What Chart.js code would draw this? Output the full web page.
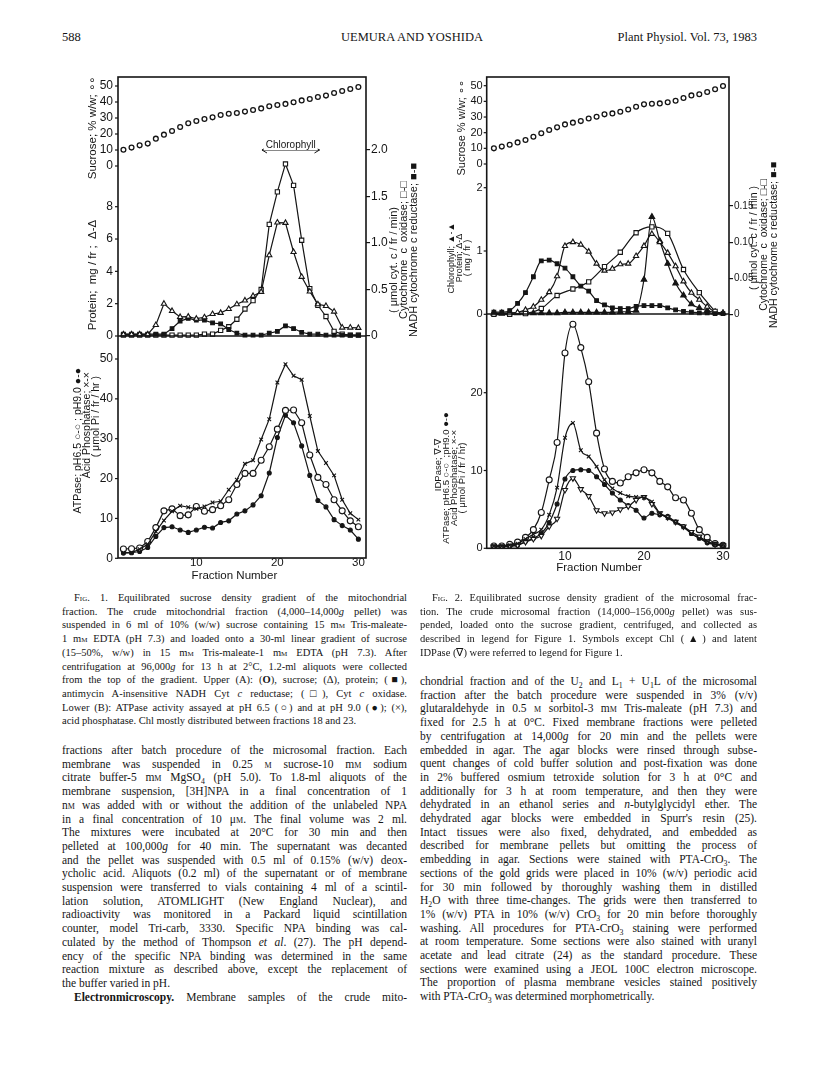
<!DOCTYPE html>
<html>
<head>
<meta charset="utf-8">
<script src="https://cdn.jsdelivr.net/npm/chart.js@4.4.0/dist/chart.umd.min.js"></script>
<style>
  body { margin:0; width:816px; height:1073px; background:#fff; position:relative; overflow:hidden;
         font-family:'Liberation Serif', 'Times New Roman', serif; color:#151515; }
  .hdr { position:absolute; top:30px; font-size:12.5px; line-height:14px; white-space:nowrap; }
  .fig { position:absolute; }
  .txt { position:absolute; }
  .txt div { white-space:nowrap; text-align:justify; text-align-last:justify; }
  .txt div.e { text-align-last:left; }
  .txt div.i { padding-left:12px; }
  .cap { font-size:10.5px; line-height:13.7px; }
  .bod { font-size:11.5px; line-height:13.7px; }
  .sc { font-variant:small-caps; }
  sub, sup { font-size:0.68em; line-height:0; }
</style>
</head>
<body>
<div class="hdr" style="left:62px">588</div>
<div class="hdr" style="left:0; width:816px; text-align:center; padding-left:4px">UEMURA AND YOSHIDA</div>
<div class="hdr" style="right:59px">Plant Physiol. Vol. 73, 1983</div>

<div class="fig" style="left:60px; top:65px"><canvas id="fig1" width="380" height="525"></canvas></div>
<div class="fig" style="left:425px; top:65px"><canvas id="fig2" width="370" height="515"></canvas></div>

<!-- Fig. 1 legend -->
<div class="txt cap" style="left:62px; top:591px; width:345px">
  <div class="i">F<span class="sc">ig</span>. 1. Equilibrated sucrose density gradient of the mitochondrial</div>
  <div>fraction. The crude mitochondrial fraction (4,000–14,000<i>g</i> pellet) was</div>
  <div>suspended in 6 ml of 10% (w/w) sucrose containing 15 m<span class="sc">m</span> Tris-maleate-</div>
  <div>1 m<span class="sc">m</span> EDTA (pH 7.3) and loaded onto a 30-ml linear gradient of sucrose</div>
  <div>(15–50%, w/w) in 15 m<span class="sc">m</span> Tris-maleate-1 m<span class="sc">m</span> EDTA (pH 7.3). After</div>
  <div>centrifugation at 96,000<i>g</i> for 13 h at 2°C, 1.2-ml aliquots were collected</div>
  <div>from the top of the gradient. Upper (A): (<b>O</b>), sucrose; (Δ), protein; (■),</div>
  <div>antimycin A-insensitive NADH Cyt <i>c</i> reductase; (□), Cyt <i>c</i> oxidase.</div>
  <div>Lower (B): ATPase activity assayed at pH 6.5 (○) and at pH 9.0 (●); (×),</div>
  <div class="e">acid phosphatase. Chl mostly distributed between fractions 18 and 23.</div>
</div>

<!-- left column text -->
<div class="txt bod" style="left:62px; top:744px; width:345px">
  <div>fractions after batch procedure of the microsomal fraction. Each</div>
  <div>membrane was suspended in 0.25 <span class="sc">m</span> sucrose-10 m<span class="sc">m</span> sodium</div>
  <div>citrate buffer-5 m<span class="sc">m</span> MgSO<sub>4</sub> (pH 5.0). To 1.8-ml aliquots of the</div>
  <div>membrane suspension, [3H]NPA in a final concentration of 1</div>
  <div>n<span class="sc">m</span> was added with or without the addition of the unlabeled NPA</div>
  <div>in a final concentration of 10 μ<span class="sc">m</span>. The final volume was 2 ml.</div>
  <div>The mixtures were incubated at 20°C for 30 min and then</div>
  <div>pelleted at 100,000<i>g</i> for 40 min. The supernatant was decanted</div>
  <div>and the pellet was suspended with 0.5 ml of 0.15% (w/v) deox-</div>
  <div>ycholic acid. Aliquots (0.2 ml) of the supernatant or of membrane</div>
  <div>suspension were transferred to vials containing 4 ml of a scintil-</div>
  <div>lation solution, ATOMLIGHT (New England Nuclear), and</div>
  <div>radioactivity was monitored in a Packard liquid scintillation</div>
  <div>counter, model Tri-carb, 3330. Specific NPA binding was cal-</div>
  <div>culated by the method of Thompson <i>et al</i>. (27). The pH depend-</div>
  <div>ency of the specific NPA binding was determined in the same</div>
  <div>reaction mixture as described above, except the replacement of</div>
  <div class="e">the buffer varied in pH.</div>
  <div class="i"><b>Electronmicroscopy.</b> Membrane samples of the crude mito-</div>
</div>

<!-- Fig. 2 legend -->
<div class="txt cap" style="left:420px; top:591px; width:337px">
  <div class="i">F<span class="sc">ig</span>. 2. Equilibrated sucrose density gradient of the microsomal frac-</div>
  <div>tion. The crude microsomal fraction (14,000–156,000<i>g</i> pellet) was sus-</div>
  <div>pended, loaded onto the sucrose gradient, centrifuged, and collected as</div>
  <div>described in legend for Figure 1. Symbols except Chl (▲) and latent</div>
  <div class="e">IDPase (∇) were referred to legend for Figure 1.</div>
</div>

<!-- right column text -->
<div class="txt bod" style="left:420px; top:675px; width:337px">
  <div>chondrial fraction and of the U<sub>2</sub> and L<sub>1</sub> + U<sub>1</sub>L of the microsomal</div>
  <div>fraction after the batch procedure were suspended in 3% (v/v)</div>
  <div>glutaraldehyde in 0.5 <span class="sc">m</span> sorbitol-3 m<span class="sc">m</span> Tris-maleate (pH 7.3) and</div>
  <div>fixed for 2.5 h at 0°C. Fixed membrane fractions were pelleted</div>
  <div>by centrifugation at 14,000<i>g</i> for 20 min and the pellets were</div>
  <div>embedded in agar. The agar blocks were rinsed through subse-</div>
  <div>quent changes of cold buffer solution and post-fixation was done</div>
  <div>in 2% buffered osmium tetroxide solution for 3 h at 0°C and</div>
  <div>additionally for 3 h at room temperature, and then they were</div>
  <div>dehydrated in an ethanol series and <i>n</i>-butylglycidyl ether. The</div>
  <div>dehydrated agar blocks were embedded in Spurr's resin (25).</div>
  <div>Intact tissues were also fixed, dehydrated, and embedded as</div>
  <div>described for membrane pellets but omitting the process of</div>
  <div>embedding in agar. Sections were stained with PTA-CrO<sub>3</sub>. The</div>
  <div>sections of the gold grids were placed in 10% (w/v) periodic acid</div>
  <div>for 30 min followed by thoroughly washing them in distilled</div>
  <div>H<sub>2</sub>O with three time-changes. The grids were then transferred to</div>
  <div>1% (w/v) PTA in 10% (w/v) CrO<sub>3</sub> for 20 min before thoroughly</div>
  <div>washing. All procedures for PTA-CrO<sub>3</sub> staining were performed</div>
  <div>at room temperature. Some sections were also stained with uranyl</div>
  <div>acetate and lead citrate (24) as the standard procedure. These</div>
  <div>sections were examined using a JEOL 100C electron microscope.</div>
  <div>The proportion of plasma membrane vesicles stained positively</div>
  <div class="e">with PTA-CrO<sub>3</sub> was determined morphometrically.</div>
</div>

<script>
// ---- data: fraction numbers ----
var fractions = [1, 2, 3, 4, 5, 6, 7, 8, 9, 10, 11, 12, 13, 14, 15, 16, 17, 18, 19, 20, 21, 22, 23, 24, 25, 26, 27, 28, 29, 30];
var fractionTicks = [10, 20, 30];

// ---- Fig. 1 (mitochondrial fraction) ----
var f1Sucrose = [10.2, 11.5, 12.9, 14.0, 17.1, 19.6, 21.9, 24.4, 26.7, 28.1, 29.4, 30.4, 31.9, 32.7, 33.1, 34.0, 35.0, 36.0, 37.3, 38.1, 38.8, 39.8, 41.0, 41.9, 43.1, 44.0, 45.6, 46.9, 48.1, 49.4];
var f1Protein = [0.1, 0.1, 0.1, 0.1, 0.68, 2.0, 1.55, 1.18, 1.2, 1.07, 1.16, 1.36, 1.43, 1.67, 1.96, 2.2, 2.48, 2.73, 5.0, 7.02, 7.0, 5.2, 3.66, 2.75, 1.96, 1.86, 1.51, 0.52, 0.52, 0.5];
var f1CytOx = [0.01, 0.01, 0.01, 0.01, 0.01, 0.01, 0.01, 0.01, 0.01, 0.01, 0.02, 0.02, 0.06, 0.1, 0.18, 0.29, 0.38, 0.5, 1.2, 1.55, 1.85, 1.62, 1.03, 0.51, 0.33, 0.21, 0.05, 0.02, 0.01, 0.01];
var f1Nadh = [0.02, 0.02, 0.02, 0.02, 0.02, 0.02, 0.08, 0.16, 0.19, 0.17, 0.17, 0.14, 0.13, 0.07, 0.03, 0.01, 0.01, 0.01, 0.03, 0.05, 0.11, 0.08, 0.04, 0.02, 0.02, 0.01, 0.01, 0.01, 0.01, 0.01];
var f1Atp65 = [2.35, 2.4, 2.6, 4.2, 7.7, 11.9, 12.4, 10.7, 10.9, 13.0, 11.8, 12.2, 13.2, 14.7, 18.5, 21.3, 21.3, 24.6, 28.0, 32.4, 37.1, 37.2, 34.0, 25.9, 20.3, 18.5, 14.7, 11.9, 9.4, 7.9];
var f1Atp90 = [1.3, 1.4, 1.7, 2.7, 5.5, 7.7, 7.9, 7.1, 6.5, 7.1, 7.8, 7.6, 9.0, 9.4, 11.1, 11.9, 13.4, 15.7, 21.4, 30.3, 35.9, 34.0, 28.2, 20.8, 14.5, 12.9, 9.7, 8.2, 7.1, 4.8];
var f1AcidP = [1.4, 1.4, 2.3, 3.5, 6.7, 9.5, 11.8, 13.2, 12.8, 12.4, 13.0, 14.0, 14.3, 17.2, 19.7, 23.7, 24.6, 29.8, 34.9, 44.1, 48.7, 45.8, 44.8, 35.7, 26.9, 23.9, 20.8, 14.7, 11.3, 9.7];

// ---- Fig. 2 (microsomal fraction) ----
var f2Sucrose = [10.0, 11.1, 12.3, 13.8, 15.3, 17.4, 19.6, 21.7, 23.4, 25.3, 26.4, 27.4, 29.1, 30.2, 31.7, 32.3, 33.4, 34.8, 36.6, 38.1, 38.5, 38.7, 39.4, 40.4, 42.1, 43.8, 44.5, 46.0, 47.7, 49.8];
var f2Chl = [0.02, 0.02, 0.02, 0.02, 0.02, 0.02, 0.02, 0.02, 0.02, 0.03, 0.03, 0.03, 0.03, 0.03, 0.03, 0.03, 0.04, 0.04, 0.06, 0.55, 1.54, 1.16, 0.8, 0.49, 0.3, 0.16, 0.1, 0.06, 0.03, 0.02];
var f2Protein = [0.01, 0.01, 0.02, 0.03, 0.07, 0.12, 0.23, 0.35, 0.6, 1.08, 1.14, 1.1, 0.99, 0.8, 0.69, 0.72, 0.79, 0.8, 0.92, 1.08, 1.27, 1.14, 0.97, 0.76, 0.52, 0.34, 0.23, 0.12, 0.04, 0.02];
var f2CytOxFractions = [1, 3, 5, 7, 9, 11, 13, 15, 17, 19, 21, 23, 25, 27, 29];
var f2CytOx = [0.0, 0.0, 0.001, 0.008, 0.026, 0.035, 0.045, 0.066, 0.086, 0.113, 0.121, 0.112, 0.062, 0.03, 0.004];
var f2Nadh = [0.003, 0.003, 0.005, 0.015, 0.03, 0.052, 0.074, 0.075, 0.07, 0.064, 0.052, 0.039, 0.032, 0.019, 0.013, 0.009, 0.008, 0.008, 0.011, 0.012, 0.012, 0.012, 0.009, 0.006, 0.004, 0.003, 0.002, 0.002, 0.001, 0.001];
var f2Atp65 = [0.3, 0.3, 0.5, 0.8, 1.4, 2.4, 4.6, 8.8, 13.6, 25.1, 28.8, 25.8, 21.4, 14.8, 10.2, 8.6, 8.4, 9.2, 9.7, 10.1, 9.7, 8.6, 7.9, 6.5, 6.2, 4.5, 2.4, 1.4, 0.6, 0.4];
var f2Atp90 = [0.2, 0.2, 0.3, 0.4, 0.9, 1.3, 1.9, 3.3, 5.7, 8.9, 10.0, 10.1, 10.0, 9.2, 8.2, 7.1, 6.2, 5.5, 4.9, 3.9, 4.5, 4.3, 4.1, 3.4, 2.8, 1.9, 1.3, 0.7, 0.5, 0.4];
var f2AcidP = [0.3, 0.3, 0.4, 0.6, 1.2, 1.8, 2.4, 4.3, 7.8, 14.2, 16.1, 12.6, 11.8, 10.5, 8.8, 7.7, 7.1, 6.7, 6.6, 6.5, 6.0, 4.5, 3.9, 3.3, 2.7, 1.9, 1.3, 0.9, 0.5, 0.4];
var f2IdPase = [0.2, 0.2, 0.3, 0.4, 0.8, 1.2, 1.6, 2.8, 3.8, 7.5, 9.0, 7.6, 6.7, 4.9, 4.5, 4.6, 5.0, 5.4, 6.2, 6.6, 5.7, 4.5, 4.0, 3.4, 2.8, 2.1, 1.5, 0.9, 0.5, 0.4];

// tick labels
var sucroseTicks = [0, 10, 20, 30, 40, 50];
var f1ProteinTicks = [0, 2, 4, 6, 8];
var f1CytTicks = [0, 0.5, 1.0, 1.5, 2.0];
var f1AtpTicks = [0, 10, 20, 30, 40, 50];
var f2ProteinTicks = [0, 1, 2];
var f2CytTicks = [0, 0.05, 0.10, 0.15];
var f2AtpTicks = [0, 10, 20];

var INK = '#151515';
Chart.defaults.font.family = "'Liberation Sans', Arial, sans-serif";
Chart.defaults.color = INK;

// axis range so that two known values land at two known page pixels
function calib(top, bottom, v0, p0, v1, p1) {
  var k = (p0 - p1) / (v1 - v0);
  return { min: v0 - (bottom - p0) / k, max: v0 + (p0 - top) / k };
}

function pts(xs, ys) {
  return xs.map(function (x, i) { return { x: x, y: ys[i] }; });
}

function series(xs, ys, axis, mark, extra) {
  var d = {
    data: pts(xs, ys), yAxisID: axis,
    borderColor: INK, borderWidth: 1.2,
    pointStyle: mark.style, pointRadius: mark.r, pointRotation: mark.rot || 0,
    pointBorderColor: INK, pointBorderWidth: mark.bw || 1.1,
    pointBackgroundColor: mark.fill ? INK : '#fff',
    tension: 0
  };
  return Object.assign(d, extra || {});
}

function vtext(ctx, text, x, y, size, align) {
  ctx.save();
  ctx.translate(x, y);
  ctx.rotate(-Math.PI / 2);
  ctx.font = size + "px 'Liberation Sans', 'DejaVu Sans', sans-serif";
  ctx.textAlign = align || 'center';
  ctx.textBaseline = 'middle';
  ctx.fillStyle = INK;
  ctx.fillText(text, 0, 0);
  ctx.restore();
}

// frame, divider, left ticks, axis titles, annotation
var figDecor = {
  id: 'figDecor',
  afterDraw: function (chart, args, o) {
    var ctx = chart.ctx, a = chart.chartArea, s = chart.scales;
    ctx.save();
    ctx.strokeStyle = INK;
    ctx.lineWidth = 1.6;
    ctx.strokeRect(a.left, a.top, a.right - a.left, a.bottom - a.top);
    var yDiv = Math.round(s.yProt.getPixelForValue(0));
    ctx.beginPath(); ctx.moveTo(a.left, yDiv); ctx.lineTo(a.right, yDiv); ctx.stroke();

    ctx.lineWidth = 1.2;
    ctx.fillStyle = INK;
    ctx.textAlign = 'right';
    ctx.textBaseline = 'middle';
    o.leftTicks.forEach(function (t) {
      var sc = s[t.axis];
      ctx.font = t.size + "px 'Liberation Sans', sans-serif";
      t.values.forEach(function (v) {
        var y = sc.getPixelForValue(v);
        ctx.beginPath(); ctx.moveTo(a.left - 3, y); ctx.lineTo(a.left, y); ctx.stroke();
        ctx.fillText(String(v), a.left - t.gap, y);
      });
    });

    o.titles.forEach(function (t) {
      vtext(ctx, t.text, t.x - o.ox, t.y - o.oy, t.size, t.align);
    });

    ctx.font = "11.5px 'Liberation Sans', sans-serif";
    ctx.textAlign = 'center';
    ctx.fillText('Fraction Number', s.x.getPixelForValue(o.xTitleAt), o.xTitleY - o.oy);

    if (o.arrow) {
      var x0 = s.x.getPixelForValue(o.arrow.from), x1 = s.x.getPixelForValue(o.arrow.to);
      var ya = o.arrow.y - o.oy;
      ctx.lineWidth = 1;
      ctx.beginPath();
      ctx.moveTo(x0, ya); ctx.lineTo(x1, ya);
      ctx.moveTo(x0 + 5, ya - 3); ctx.lineTo(x0, ya); ctx.lineTo(x0 + 5, ya + 3);
      ctx.moveTo(x1 - 5, ya - 3); ctx.lineTo(x1, ya); ctx.lineTo(x1 - 5, ya + 3);
      ctx.stroke();
      ctx.font = "10px 'Liberation Sans', sans-serif";
      var tx = (x0 + x1) / 2, tw = ctx.measureText(o.arrow.label).width;
      ctx.fillStyle = '#fff';
      ctx.fillRect(tx - tw / 2 - 2, ya - 10, tw + 4, 10);
      ctx.fillStyle = INK;
      ctx.fillText(o.arrow.label, tx, ya - 5);
    }
    ctx.restore();
  }
};

function hiddenY(r) {
  return { type: 'linear', display: false, min: r.min, max: r.max };
}

function rightY(r, ticks, fmt, width, size) {
  return {
    type: 'linear', position: 'right', min: r.min, max: r.max,
    border: { display: false },
    grid: { drawOnChartArea: false, drawTicks: true, tickLength: 4, color: INK, lineWidth: 1.2 },
    ticks: { padding: 1, autoSkip: false, font: { size: size }, color: INK, callback: fmt },
    afterBuildTicks: function (sc) { sc.ticks = ticks.map(function (v) { return { value: v }; }); },
    afterFit: function (sc) { sc.width = width; sc.paddingTop = 0; sc.paddingBottom = 0; }
  };
}

function bottomX(min, max, height, pad, size) {
  return {
    type: 'linear', min: min, max: max,
    border: { display: false },
    grid: { display: false, drawTicks: false },
    ticks: { padding: pad, autoSkip: false, font: { size: size }, color: INK, maxRotation: 0 },
    afterBuildTicks: function (sc) { sc.ticks = fractionTicks.map(function (v) { return { value: v }; }); },
    afterFit: function (sc) { sc.height = height; sc.paddingLeft = 0; sc.paddingRight = 0; }
  };
}

function makeChart(id, datasets, scales, padding, decor) {
  return new Chart(document.getElementById(id), {
    type: 'line',
    data: { datasets: datasets },
    options: {
      responsive: false, animation: false,
      layout: { padding: padding },
      plugins: { legend: { display: false }, tooltip: { enabled: false }, figDecor: decor },
      scales: scales
    },
    plugins: [figDecor]
  });
}

var OPEN_CIRCLE = { style: 'circle', r: 2.4, bw: 1.3 };
var BIG_CIRCLE = { style: 'circle', r: 3 };
var DOT = { style: 'circle', r: 2, fill: true };
var OPEN_TRI = { style: 'triangle', r: 3 };
var FILL_TRI = { style: 'triangle', r: 3.2, fill: true };
var DOWN_TRI = { style: 'triangle', r: 3, rot: 180 };
var OPEN_SQ = { style: 'rect', r: 3 };
var FILL_SQ = { style: 'rect', r: 2.6, fill: true };
var CROSS = { style: 'crossRot', r: 2.6 };

// ---------- Fig. 1 ----------
// page coords of the plot frame: left 118, right 366, top 77, bottom 558 ; canvas at (60,65)
var A1 = { top: 77, bottom: 558 };
makeChart('fig1', [
  series(fractions, f1Sucrose, 'ySuc', OPEN_CIRCLE, { showLine: false }),
  series(fractions, f1Protein, 'yProt', OPEN_TRI),
  series(fractions, f1Nadh, 'yCyt', FILL_SQ),
  series(fractions, f1CytOx, 'yCyt', OPEN_SQ),
  series(fractions, f1AcidP, 'yAtp', CROSS),
  series(fractions, f1Atp65, 'yAtp', BIG_CIRCLE),
  series(fractions, f1Atp90, 'yAtp', DOT)
], {
  x: bottomX(0.33, 30.94, 32, -2, 11.5),
  ySuc: hiddenY(calib(A1.top, A1.bottom, 0, 166, 50, 86)),
  yProt: hiddenY(calib(A1.top, A1.bottom, 0, 336, 8, 206.7)),
  yAtp: hiddenY(calib(A1.top, A1.bottom, 0, 558.3, 50, 359)),
  yCyt: rightY(calib(A1.top, A1.bottom, 0, 336, 2, 150), f1CytTicks,
    function (v) { return v === 0 ? '0' : v.toFixed(1); }, 74, 12)
}, { left: 58, top: 12, right: 0, bottom: 0 }, {
  ox: 60, oy: 65,
  leftTicks: [
    { axis: 'ySuc', values: sucroseTicks, gap: 5, size: 12 },
    { axis: 'yProt', values: f1ProteinTicks, gap: 5, size: 12 },
    { axis: 'yAtp', values: f1AtpTicks, gap: 5, size: 12 }
  ],
  titles: [
    { text: 'Sucrose; % w/w; ∘∘', x: 93, y: 128, size: 11.5 },
    { text: 'Protein;  mg / fr ;  Δ-Δ', x: 93, y: 275, size: 11.5 },
    { text: 'ATPase; pH6.5 ○-○ ; pH9.0 ●-●', x: 78, y: 368, size: 10.5, align: 'right' },
    { text: 'Acid Phosphatase; ×-×', x: 87, y: 372, size: 10.5, align: 'right' },
    { text: '( μmol Pi / fr / hr )', x: 96, y: 376, size: 10.5, align: 'right' },
    { text: '( μmol cyt. c / fr / min)', x: 394, y: 260, size: 11 },
    { text: 'Cytochrome  c  oxidase; □-□', x: 404, y: 250, size: 11 },
    { text: 'NADH cytochrome c reductase; ■-■', x: 414, y: 250, size: 11 }
  ],
  xTitleAt: 14.7, xTitleY: 576,
  arrow: { from: 18.1, to: 25.2, y: 150, label: 'Chlorophyll' }
});

// ---------- Fig. 2 ----------
// page coords of the plot frame: left 486.7, right 729, top 77, bottom 548.3 ; canvas at (425,65)
var A2 = { top: 77, bottom: 548.3 };
makeChart('fig2', [
  series(fractions, f2Sucrose, 'ySuc', OPEN_CIRCLE, { showLine: false }),
  series(fractions, f2Nadh, 'yCyt', FILL_SQ, { cubicInterpolationMode: 'monotone' }),
  series(f2CytOxFractions, f2CytOx, 'yCyt', OPEN_SQ, { cubicInterpolationMode: 'monotone' }),
  series(fractions, f2Protein, 'yProt', OPEN_TRI, { cubicInterpolationMode: 'monotone' }),
  series(fractions, f2Chl, 'yProt', FILL_TRI, { cubicInterpolationMode: 'monotone' }),
  series(fractions, f2AcidP, 'yAtp', CROSS, { cubicInterpolationMode: 'monotone' }),
  series(fractions, f2IdPase, 'yAtp', DOWN_TRI, { cubicInterpolationMode: 'monotone' }),
  series(fractions, f2Atp90, 'yAtp', DOT, { cubicInterpolationMode: 'monotone' }),
  series(fractions, f2Atp65, 'yAtp', BIG_CIRCLE, { cubicInterpolationMode: 'monotone' })
], {
  x: bottomX(0.09, 30.76, 31.7, 1, 12),
  ySuc: hiddenY(calib(A2.top, A2.bottom, 0, 164, 50, 85.7)),
  yProt: hiddenY(calib(A2.top, A2.bottom, 0, 314.3, 2, 187.7)),
  yAtp: hiddenY(calib(A2.top, A2.bottom, 0, 548.3, 20, 392.7)),
  yCyt: rightY(calib(A2.top, A2.bottom, 0, 314.3, 0.15, 206), f2CytTicks,
    function (v) { return v === 0 ? '0' : v.toFixed(2); }, 66, 10)
}, { left: 61.7, top: 12, right: 0, bottom: 0 }, {
  ox: 425, oy: 65,
  leftTicks: [
    { axis: 'ySuc', values: sucroseTicks, gap: 4, size: 11 },
    { axis: 'yProt', values: f2ProteinTicks, gap: 4, size: 11 },
    { axis: 'yAtp', values: f2AtpTicks, gap: 4, size: 11 }
  ],
  titles: [
    { text: 'Sucrose % w/w; ∘∘', x: 462, y: 128, size: 11 },
    { text: 'Chlorophyll; ▲-▲', x: 452, y: 258, size: 9 },
    { text: 'Protein; Δ-Δ', x: 460, y: 258, size: 9 },
    { text: '( mg / fr )', x: 468, y: 258, size: 9 },
    { text: 'IDPase; ∇-∇', x: 438, y: 465, size: 9.5 },
    { text: 'ATPase; pH6.5 ○-○  ;pH9.0 ●-●', x: 446, y: 478, size: 9.5 },
    { text: 'Acid Phosphatase; ×-×', x: 454, y: 478, size: 9.5 },
    { text: '( μmol Pi / fr / hr)', x: 462, y: 478, size: 9.5 },
    { text: '( μmol cyt. c / fr / min )', x: 754, y: 238, size: 10.5 },
    { text: 'Cytochrome  c  oxidase; □-□', x: 764, y: 245, size: 10.5 },
    { text: 'NADH cytochrome c reductase; ■-■', x: 774, y: 245, size: 10.5 }
  ],
  xTitleAt: 14.3, xTitleY: 568
});
</script>
</body>
</html>
